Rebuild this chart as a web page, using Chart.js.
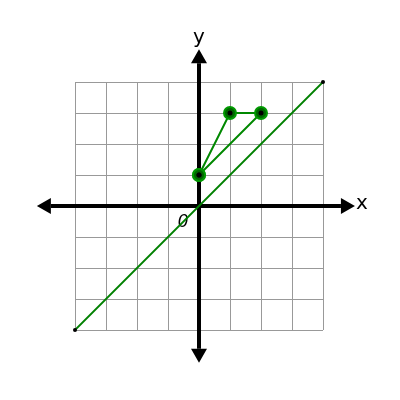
<!DOCTYPE html>
<html>
<head>
<meta charset="utf-8">
<script src="https://cdn.jsdelivr.net/npm/chart.js@4"></script>
<style>
  html, body { margin: 0; padding: 0; background: #fff; }
  #wrap { width: 400px; height: 400px; }
</style>
</head>
<body>
<div id="wrap"><canvas id="plane" width="400" height="400"></canvas></div>
<script>
// Axis range and grid
const axisMin = -4;
const axisMax = 4;
const gridStep = 1;

// Line y = x
const lineXs = [-4, 4];
const lineYs = [-4, 4];

// Triangle (closed back to the first point)
const triangleXs = [0, 1, 2, 0];
const triangleYs = [1, 3, 3, 1];

// Labels
const xLabel = "x";
const yLabel = "y";
const originLabel = "0";

function toPoints(xs, ys) {
    return xs.map((x, i) => ({ x: x, y: ys[i] }));
}

// Draw the black axes with arrow heads plus the x / y / 0 labels
const axesPlugin = {
    id: "axesArrows",
    beforeDatasetsDraw(chart) {
        const ctx = chart.ctx;
        const xs = chart.scales.x;
        const ys = chart.scales.y;
        const x0 = xs.getPixelForValue(0);
        const y0 = ys.getPixelForValue(0);
        const left = xs.getPixelForValue(-5.23);
        const right = xs.getPixelForValue(5.03);
        const top = ys.getPixelForValue(5.06);
        const bottom = ys.getPixelForValue(-5.06);
        const headLen = 14;
        const headHalf = 8;

        ctx.save();
        ctx.strokeStyle = "#000";
        ctx.fillStyle = "#000";
        ctx.lineWidth = 4;
        ctx.beginPath();
        ctx.moveTo(left + headLen, y0);
        ctx.lineTo(right - headLen, y0);
        ctx.moveTo(x0, top + headLen);
        ctx.lineTo(x0, bottom - headLen);
        ctx.stroke();

        // arrow heads
        ctx.beginPath();
        ctx.moveTo(left, y0);
        ctx.lineTo(left + headLen, y0 - headHalf);
        ctx.lineTo(left + headLen, y0 + headHalf);
        ctx.closePath();
        ctx.moveTo(right, y0);
        ctx.lineTo(right - headLen, y0 - headHalf);
        ctx.lineTo(right - headLen, y0 + headHalf);
        ctx.closePath();
        ctx.moveTo(x0, top);
        ctx.lineTo(x0 - headHalf, top + headLen);
        ctx.lineTo(x0 + headHalf, top + headLen);
        ctx.closePath();
        ctx.moveTo(x0, bottom);
        ctx.lineTo(x0 - headHalf, bottom - headLen);
        ctx.lineTo(x0 + headHalf, bottom - headLen);
        ctx.closePath();
        ctx.fill();

        // labels
        ctx.font = "20px 'DejaVu Sans', sans-serif";
        ctx.textAlign = "left";
        ctx.textBaseline = "middle";
        ctx.fillText(xLabel, right + 1, y0 - 2);
        ctx.textAlign = "center";
        ctx.textBaseline = "bottom";
        ctx.fillText(yLabel, x0, top - 1);
        ctx.font = "italic 18px 'Liberation Sans', sans-serif";
        ctx.textAlign = "center";
        ctx.textBaseline = "middle";
        ctx.fillText(originLabel, xs.getPixelForValue(-0.52), ys.getPixelForValue(-0.5));
        ctx.restore();
    }
};

const gridScale = {
    type: "linear",
    min: axisMin,
    max: axisMax,
    ticks: { display: false, stepSize: gridStep },
    grid: { color: "#999", lineWidth: 1, drawTicks: false },
    border: { display: false }
};

new Chart(document.getElementById("plane"), {
    type: "scatter",
    data: {
        datasets: [
            {
                // black centre dots, drawn on top
                data: toPoints(triangleXs, triangleYs),
                showLine: false,
                pointRadius: 2.5,
                pointBackgroundColor: "#000",
                pointBorderWidth: 0,
                clip: false
            },
            {
                data: toPoints(triangleXs, triangleYs),
                showLine: true,
                borderColor: "#008800",
                borderWidth: 2,
                pointRadius: 6,
                pointBackgroundColor: "#006600",
                pointBorderColor: "#009900",
                pointBorderWidth: 2,
                clip: false
            },
            {
                data: toPoints(lineXs, lineYs),
                showLine: true,
                borderColor: "#008000",
                borderWidth: 1.8,
                pointRadius: 2,
                pointBackgroundColor: "#000",
                pointBorderWidth: 0,
                clip: false
            }
        ]
    },
    options: {
        responsive: false,
        animation: false,
        layout: { padding: { left: 75, right: 77, top: 82, bottom: 70 } },
        plugins: {
            legend: { display: false },
            tooltip: { enabled: false }
        },
        scales: {
            x: gridScale,
            y: Object.assign({}, gridScale)
        }
    },
    plugins: [axesPlugin]
});
</script>
</body>
</html>
